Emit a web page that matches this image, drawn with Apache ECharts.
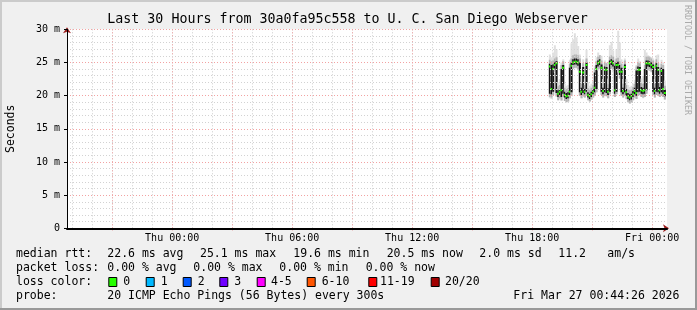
<!DOCTYPE html>
<html><head><meta charset="utf-8">
<script src="https://cdn.jsdelivr.net/npm/echarts@6/dist/echarts.min.js"></script>
<style>html,body{margin:0;padding:0;background:#f0f0f0}#c{width:697px;height:310px}</style>
</head><body><div id="c"></div>
<script>
// ---------- data ----------
const chartTitle = 'Last 30 Hours from 30a0fa95c558 to U. C. San Diego Webserver';
const startMin = 1124.433;   // Wed 18:44:26, minutes since Wed 00:00
const endMin = 2924.433;     // Fri 00:44:26
const stepMin = 5;           // 300 s probe step
const firstSampleMin = 2575; // Thu 18:55
const median = [
 24.4,21.0,24.0,24.6,24.9,20.3,20.6,20.8,24.2,20.1,
 19.9,20.0,20.6,24.5,25.0,25.1,25.1,25.0,23.6,20.6,
 23.5,20.6,24.6,20.1,19.9,20.2,20.6,21.2,24.0,24.9,
 25.1,24.2,20.7,23.9,23.9,20.6,24.9,25.1,24.9,20.8,
 24.6,24.6,23.6,23.6,20.7,24.3,20.5,19.9,19.7,19.9,
 20.2,20.7,20.4,23.9,23.9,20.8,20.7,20.8,24.9,24.9,
 24.8,24.6,24.3,20.7,24.5,23.9,20.8,23.7,21.0,20.4];
const coreLo = [
 20.3,20.2,20.6,24.1,20.4,19.8,20.1,19.8,20.3,19.7,
 19.5,19.6,20.1,20.5,24.6,24.7,24.7,24.5,20.5,20.1,
 20.4,20.2,20.6,19.7,19.5,19.8,20.2,20.5,21.0,24.4,
 24.6,20.6,20.2,20.5,20.4,20.1,20.6,24.6,24.4,20.3,
 20.6,24.1,23.1,20.5,20.2,20.5,20.0,19.5,19.3,19.4,
 19.8,20.2,20.0,20.5,20.6,20.3,20.2,20.3,20.8,24.4,
 24.3,24.1,20.6,20.2,20.6,20.5,20.3,20.5,20.3,19.9];
const coreHi = [
 24.8,24.6,24.7,25.0,25.2,20.8,21.0,24.0,24.6,20.6,
 20.4,20.5,24.2,25.0,25.5,25.6,25.6,25.5,25.0,21.2,
 24.3,21.0,25.0,20.5,20.3,20.6,21.0,23.5,24.6,25.3,
 25.5,24.7,21.2,24.4,24.3,21.1,25.3,25.5,25.3,24.5,
 25.0,25.1,24.6,24.2,21.2,24.7,21.0,20.4,20.2,20.3,
 20.7,21.2,23.8,24.4,24.3,21.3,21.2,24.0,25.3,25.3,
 25.2,25.0,24.7,21.2,24.9,24.3,21.3,24.2,24.0,20.9];
const smokeLo = [
 19.6,19.5,20.0,23.4,19.8,19.3,19.5,19.2,19.7,19.2,
 19.0,19.1,19.6,20.0,24.0,24.2,24.1,23.8,20.0,19.6,
 19.8,19.7,20.1,19.3,19.1,19.4,19.7,20.0,20.5,23.8,
 24.0,20.1,19.7,20.0,19.9,19.6,20.2,24.0,23.7,19.8,
 20.2,23.5,22.5,20.0,19.7,20.0,19.4,19.0,18.8,18.9,
 19.3,19.7,19.5,20.0,20.1,19.8,19.6,19.8,20.3,23.8,
 23.7,23.5,20.1,19.7,20.1,20.0,19.8,20.0,19.8,19.4];
const smokeHi = [
 26.2,25.8,26.5,27.6,27.0,22.0,22.5,25.0,25.5,21.8,
 21.5,21.6,25.4,27.9,28.5,29.4,28.8,27.5,26.2,23.0,
 25.5,22.6,26.9,22.0,21.5,21.8,22.2,24.5,25.8,26.5,
 26.1,26.0,22.5,25.3,25.0,22.6,27.6,28.1,26.8,25.5,
 27.0,29.8,28.0,25.5,22.5,25.6,22.5,21.6,21.3,21.5,
 21.8,22.4,24.6,25.6,25.2,22.6,23.0,26.9,26.5,26.1,
 25.9,25.8,25.6,22.5,26.1,26.2,22.8,25.4,25.0,22.3];
const xLabelTimes = [1440, 1800, 2160, 2520, 2880];
const xLabelTexts = ['Thu 00:00','Thu 06:00','Thu 12:00','Thu 18:00','Fri 00:00'];
const yTickValues = [0, 5, 10, 15, 20, 25, 30];
const yTickLabels = ['0','5 m','10 m','15 m','20 m','25 m','30 m'];
const lossLabels = ['0','1','2','3','4-5','6-10','11-19','20/20'];
const lossColors = ['#26ff00','#00b8ff','#0059ff','#7000ff','#ff00ff','#ff5500','#ff0000','#a10000'];
const legendRtt = ['median rtt:','22.6 ms avg','25.1 ms max','19.6 ms min','20.5 ms now','2.0 ms sd','11.2','am/s'];
const legendLoss = ['packet loss:','0.00 % avg','0.00 % max','0.00 % min','0.00 % now'];
const probeText = ['probe:','20 ICMP Echo Pings (56 Bytes) every 300s','Fri Mar 27 00:44:26 2026'];

// ---------- layout / style ----------
const FONT = '"DejaVu Sans Mono", monospace';
const minorTimes = []; for (let t = 1140; t <= 2880; t += 60) minorTimes.push(t);
const majorTimes = []; for (let t = 1260; t <= 2880; t += 180) majorTimes.push(t);
const seriesData = median.map((m, i) => [firstSampleMin + i * stepMin, m, coreLo[i], coreHi[i], smokeLo[i], smokeHi[i]]);

function renderItem(params, api) {
  const t = api.value(0);
  const x0 = api.coord([t - stepMin, 0])[0];
  const x1 = api.coord([t, 0])[0];
  const w = x1 - x0 + 0.35;
  const y = v => api.coord([t, v])[1];
  const sTop = y(api.value(5)), sBot = y(api.value(4));
  const cTop = y(api.value(3)), cBot = y(api.value(2));
  const hTop = y(Math.min(api.value(3) + 0.6, api.value(5)));
  const hBot = y(Math.max(api.value(2) - 0.5, api.value(4)));
  const ym = y(api.value(1));
  return {type: 'group', children: [
    {type: 'rect', shape: {x: x0, y: sTop, width: w, height: sBot - sTop}, style: {fill: '#e0e0e0'}},
    {type: 'rect', shape: {x: x0, y: hTop, width: w, height: hBot - hTop}, style: {fill: '#b4b4b4'}},
    {type: 'rect', shape: {x: x0, y: cTop, width: w, height: cBot - cTop}, style: {fill: '#141414'}},
    {type: 'rect', shape: {x: x0, y: ym - 1, width: w, height: 2}, style: {fill: lossColors[0]}}
  ]};
}

const gfx = [];
const txt = (s, x, y, size, extra) => Object.assign({type: 'text', x: x, y: y, silent: true,
  style: {text: s, x: 0, y: 0, fill: '#000', font: size + 'px ' + FONT, align: 'left', verticalAlign: 'middle'}}, extra || {});
// border
gfx.push({type: 'rect', shape: {x: 0, y: 0, width: 697, height: 2}, style: {fill: '#cbcbcb'}});
gfx.push({type: 'rect', shape: {x: 0, y: 0, width: 2, height: 310}, style: {fill: '#cbcbcb'}});
gfx.push({type: 'rect', shape: {x: 695, y: 0, width: 2, height: 310}, style: {fill: '#999999'}});
gfx.push({type: 'rect', shape: {x: 0, y: 308, width: 697, height: 2}, style: {fill: '#999999'}});
// title
const tt = txt(chartTitle, 347.5, 19.5, 13.3); tt.style.align = 'center'; gfx.push(tt);
// unit label
const ut = txt('Seconds', 11, 128.8, 11.5, {rotation: Math.PI / 2}); ut.style.align = 'center'; gfx.push(ut);
// watermark
const wm = txt('RRDTOOL / TOBI OETIKER', 687, 60, 8.3, {rotation: -Math.PI / 2}); wm.style.align = 'center'; wm.style.fill = '#aaaaaa'; gfx.push(wm);
// legend
const rttX = [16, 107.3, 200, 293.3, 386.7, 479.3, 558.3, 607.3];
legendRtt.forEach((s, i) => gfx.push(txt(s, rttX[i], 254.3, 11.5)));
const lossX = [16, 107.3, 193.3, 279.3, 365.7];
legendLoss.forEach((s, i) => gfx.push(txt(s, lossX[i], 268.3, 11.5)));
gfx.push(txt('loss color:', 16, 282.3, 11.5));
const boxX = [108.3, 145.7, 182.7, 219.3, 256.7, 306.7, 368.3, 430.7];
const boxLabelX = [123.3, 160.7, 197.7, 234.3, 271, 321.7, 380, 445];
lossLabels.forEach((s, i) => {
  gfx.push({type: 'rect', shape: {x: boxX[i] + 0.5, y: 277.5, width: 8, height: 9}, style: {fill: lossColors[i], stroke: '#000', lineWidth: 1}});
  gfx.push(txt(s, boxLabelX[i], 282.3, 11.5));
});
const probeX = [16, 107.3, 513.3];
probeText.forEach((s, i) => gfx.push(txt(s, probeX[i], 296.2, 11.5)));

const xCommon = {type: 'value', min: startMin, max: endMin, position: 'bottom', gridIndex: 0};
const option = {
  backgroundColor: '#f0f0f0',
  animation: false,
  grid: {left: 67, right: 30, top: 29.3, bottom: 81.7, show: true, backgroundColor: '#ffffff', borderWidth: 0},
  xAxis: [
    Object.assign({}, xCommon, {
      axisLine: {show: false, onZero: false}, axisLabel: {show: false},
      axisTick: {show: false, customValues: minorTimes},
      splitLine: {show: true, lineStyle: {color: '#cdcdcd', type: [1, 2], width: 1}}
    }),
    Object.assign({}, xCommon, {
      axisLine: {show: true, onZero: false, lineStyle: {color: '#9b1c1c', width: 1}, symbol: ['none', 'arrow'], symbolSize: [6, 6], symbolOffset: [0, 2]},
      axisLabel: {show: false},
      axisTick: {show: true, customValues: majorTimes, length: 2, lineStyle: {color: '#e07070'}},
      splitLine: {show: true, lineStyle: {color: '#f2a2a2', type: [1, 2], width: 1}}
    }),
    Object.assign({}, xCommon, {
      z: 5,
      axisLine: {show: true, onZero: false, lineStyle: {color: '#000', width: 2}},
      axisTick: {show: false}, splitLine: {show: false},
      axisLabel: {show: true, customValues: xLabelTimes, margin: 5, fontSize: 10, fontFamily: FONT, color: '#000',
        formatter: v => { const i = xLabelTimes.indexOf(v); return i >= 0 ? xLabelTexts[i] : ''; }}
    })
  ],
  yAxis: [
    {type: 'value', min: 0, max: 30, interval: 5, position: 'left', z: 5,
      axisLine: {show: true, onZero: false, lineStyle: {color: '#000', width: 1}},
      axisTick: {show: true, length: 3, lineStyle: {color: '#000'}},
      axisLabel: {margin: 7, fontSize: 10, fontFamily: FONT, color: '#000',
        formatter: v => { const i = yTickValues.indexOf(v); return i >= 0 ? yTickLabels[i] : ''; }},
      splitLine: {show: true, lineStyle: {color: '#f2a2a2', type: [1, 2], width: 1}},
      minorTick: {show: false, splitNumber: 5},
      minorSplitLine: {show: true, lineStyle: {color: '#d2d2d2', type: [1, 2], width: 1}}
    },
    {type: 'value', min: 0, max: 30, position: 'left',
      axisLine: {show: true, onZero: false, lineStyle: {color: '#9b1c1c', width: 1}, symbol: ['none', 'arrow'], symbolSize: [6, 6], symbolOffset: [0, 2]},
      axisTick: {show: false}, axisLabel: {show: false}, splitLine: {show: false}
    }
  ],
  series: [{
    type: 'custom', xAxisIndex: 0, yAxisIndex: 0, clip: true,
    renderItem: renderItem, data: seriesData, encode: {x: 0, y: 1}, z: 2
  }],
  graphic: gfx
};
const chart = echarts.init(document.getElementById('c'), null, {renderer: 'canvas', devicePixelRatio: 1});
chart.setOption(option);
</script></body></html>
